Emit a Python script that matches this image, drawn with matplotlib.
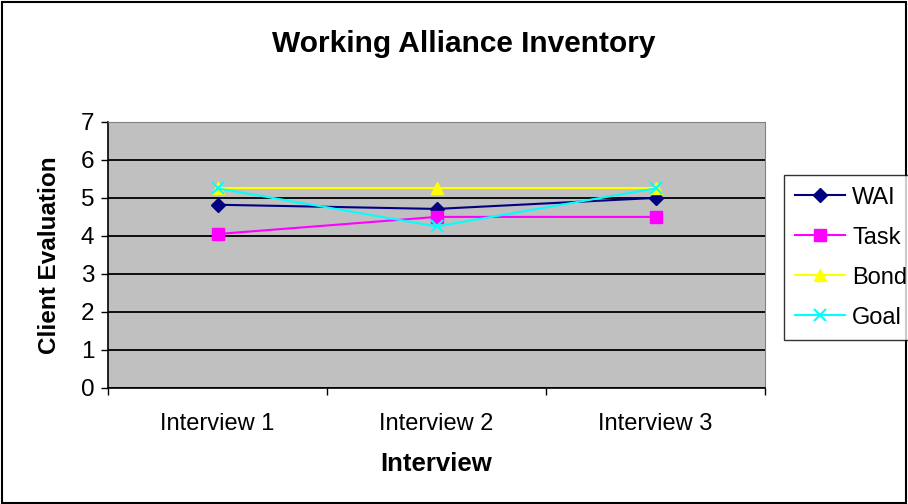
import matplotlib
matplotlib.use("Agg")
import matplotlib.pyplot as plt
from matplotlib.patches import Rectangle

plt.rcParams['font.family'] = ['Liberation Sans', 'DejaVu Sans']

categories = ["Interview 1", "Interview 2", "Interview 3"]
wai = [4.82, 4.71, 5.0]
task = [4.05, 4.5, 4.5]
bond = [5.25, 5.25, 5.25]
goal = [5.25, 4.25, 5.25]
series_names = ["WAI", "Task", "Bond", "Goal"]

fig = plt.figure(figsize=(9.08, 5.04), dpi=100)
fig.patch.set_facecolor("white")
fig.add_artist(Rectangle((0.002, 0.002), 0.996, 0.995, transform=fig.transFigure,
                         fill=False, edgecolor="black", linewidth=1.5))

ax = fig.add_axes([0.119, 0.2302, 0.7236, 0.528])
ax.set_facecolor("#c0c0c0")
x = [1, 2, 3]
ax.plot(x, wai, color="#000080", marker="D", markersize=7, lw=1.5, label=series_names[0])
ax.plot(x, task, color="#ff00ff", marker="s", markersize=8, lw=1.5, label=series_names[1])
ax.plot(x, bond, color="#ffff00", marker="^", markersize=9, lw=1.5, label=series_names[2])
ax.plot(x, goal, color="#00ffff", marker="x", markersize=8, mew=1.5, lw=1.5, label=series_names[3])

ax.set_xlim(0.5, 3.5)
ax.set_ylim(0, 7)
ax.set_yticks(range(0, 8))
ax.yaxis.grid(True, color="black", linewidth=1.3)
ax.set_axisbelow(True)
ax.set_xticks(x)
ax.set_xticklabels(categories, fontsize=17)
ax.tick_params(axis='x', which='major', length=0, pad=18)
ax.set_xticks([0.5, 1.5, 2.5, 3.5], minor=True)
ax.tick_params(axis='x', which='minor', length=5, width=1, direction='out')
ax.tick_params(axis='y', labelsize=17.5, length=5, width=1, direction='out', pad=5)
for s in ["top", "right"]:
    ax.spines[s].set_color("#808080")
for s in ["left", "bottom"]:
    ax.spines[s].set_color("black")
    ax.spines[s].set_linewidth(1.2)

ax.set_xlabel("Interview", fontsize=18.5, fontweight="bold", labelpad=12)
ax.set_ylabel("Client Evaluation", fontsize=17.5, fontweight="bold", labelpad=14)
fig.text(0.511, 0.912, "Working Alliance Inventory", ha="center", va="center",
         fontsize=21.5, fontweight="bold")

leg = fig.legend(loc="upper left", bbox_to_anchor=(0.863, 0.653), frameon=True,
                 fancybox=False, edgecolor="black", fontsize=17, handlelength=2.1,
                 labelspacing=0.76, borderpad=0.5, handletextpad=0.3,
                 borderaxespad=0)
leg.get_frame().set_linewidth(1.0)

fig.savefig("out.png", dpi=100)
